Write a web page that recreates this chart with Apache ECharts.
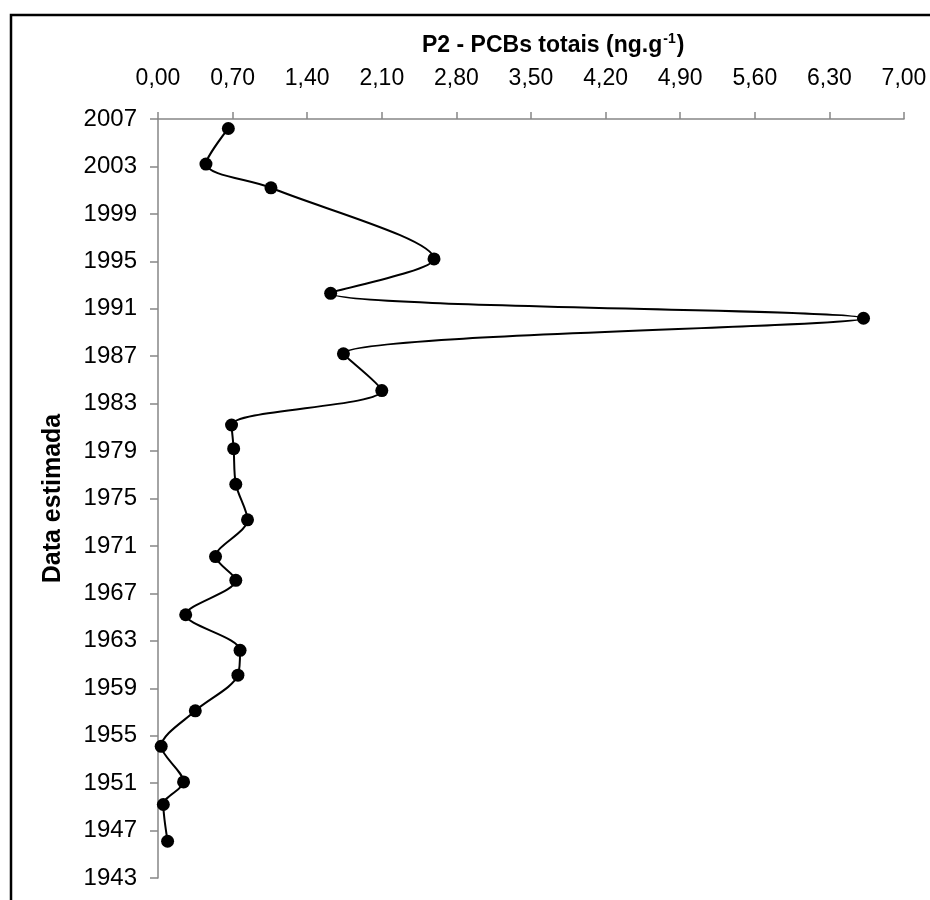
<!DOCTYPE html>
<html>
<head>
<meta charset="utf-8">
<script src="https://cdn.jsdelivr.net/npm/echarts@6/dist/echarts.min.js"></script>
<style>
html,body{margin:0;padding:0;background:#fff;}
#chart{width:930px;height:900px;}
</style>
</head>
<body>
<div id="chart"></div>
<script>
// Estimated year (y) and total PCBs (x, ng.g-1)
const years = [2006.2, 2003.2, 2001.2, 1995.2, 1992.3, 1990.2, 1987.2, 1984.1, 1981.2, 1979.2, 1976.2,
               1973.2, 1970.1, 1968.1, 1965.2, 1962.2, 1960.1, 1957.1, 1954.1, 1951.1, 1949.2, 1946.1];
const pcbs  = [0.66, 0.45, 1.06, 2.59, 1.62, 6.62, 1.74, 2.10, 0.69, 0.71, 0.73,
               0.84, 0.54, 0.73, 0.26, 0.77, 0.75, 0.35, 0.03, 0.24, 0.05, 0.09];
const xTitle = 'P2 - PCBs totais (ng.g';
const xTitleSup = '-1';
const yTitle = 'Data estimada';

const seriesData = years.map((y, i) => [pcbs[i], y]);

const chart = echarts.init(document.getElementById('chart'), null, {renderer: 'canvas'});
const axisGray = '#868686';
const font = 'Liberation Sans, Arial, sans-serif';

chart.setOption({
  animation: false,
  backgroundColor: '#ffffff',
  title: {
    text: '{b|' + xTitle + '}{sup|' + xTitleSup + '}{b|)}',
    left: 417,
    top: 27,
    textStyle: {
      rich: {
        b: {fontFamily: font, fontWeight: 'bold', fontSize: 23, color: '#000', lineHeight: 25, verticalAlign: 'bottom'},
        sup: {fontFamily: font, fontWeight: 'bold', fontSize: 14, color: '#000', lineHeight: 25, verticalAlign: 'top', padding: [0, 1, 8, 1]}
      }
    }
  },
  graphic: [{
    type: 'rect',
    shape: {x: 11, y: 15, width: 940, height: 900},
    style: {fill: 'none', stroke: '#000', lineWidth: 2.5},
    silent: true
  }],
  grid: {left: 158, top: 119, right: 26, bottom: 22, containLabel: false},
  xAxis: {
    type: 'value',
    position: 'top',
    min: 0, max: 7, interval: 0.7,
    axisLine: {show: true, lineStyle: {color: axisGray, width: 1.5}},
    axisTick: {show: true, inside: false, length: 7, lineStyle: {color: axisGray, width: 1.5}},
    splitLine: {show: false},
    axisLabel: {
      color: '#000', fontFamily: font, fontSize: 23, margin: 29,
      formatter: v => v.toFixed(2).replace('.', ',')
    }
  },
  yAxis: {
    type: 'value',
    min: 1943, max: 2007, interval: 4,
    name: yTitle,
    nameLocation: 'middle',
    nameRotate: 90,
    nameGap: 92,
    nameTextStyle: {fontFamily: font, fontWeight: 'bold', fontSize: 25, color: '#000'},
    axisLine: {show: true, lineStyle: {color: axisGray, width: 1.5}},
    axisTick: {show: true, inside: false, length: 8, lineStyle: {color: axisGray, width: 1.5}},
    splitLine: {show: false},
    axisLabel: {color: '#000', fontFamily: font, fontSize: 24, margin: 21, formatter: v => String(Math.round(v))}
  },
  series: [{
    type: 'line',
    data: seriesData,
    smooth: 0.3,
    symbol: 'circle',
    symbolSize: 13,
    itemStyle: {color: '#000'},
    lineStyle: {color: '#000', width: 2},
    clip: false
  }]
});
</script>
</body>
</html>
